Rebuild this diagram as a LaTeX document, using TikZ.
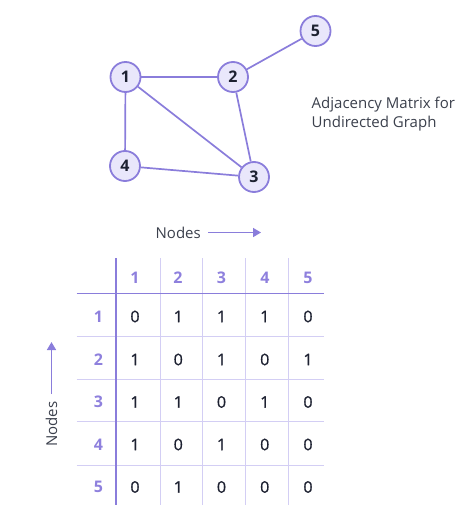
\documentclass[tikz,border=0pt]{standalone}
\usepackage{fontspec}
\setmainfont{Open Sans}
\newfontfamily\cellfont[FakeBold=0.8]{Open Sans}
\usetikzlibrary{arrows.meta}
\definecolor{edgec}{HTML}{8A7DDB}
\definecolor{fillc}{HTML}{E9E7FB}
\definecolor{gridc}{HTML}{D3CEF4}
\definecolor{headc}{HTML}{8E80DD}
\definecolor{numc}{HTML}{1D2131}
\definecolor{txtc}{HTML}{3B404C}
\begin{document}
\begin{tikzpicture}[x=1pt,y=-1pt,
  vert/.style={circle,draw=edgec,fill=fillc,line width=1.8pt,minimum size=30pt,inner sep=0pt,font=\fontsize{16}{18}\selectfont\bfseries,text=numc},
  edge/.style={draw=edgec,line width=1.7pt},
  cell/.style={font=\fontsize{16}{18}\cellfont,text=numc},
  head/.style={font=\fontsize{16}{18}\selectfont\bfseries,text=headc},
  thin/.style={draw=gridc,line width=1pt},
  thick/.style={draw=edgec,line width=1.8pt},
  lab/.style={font=\fontsize{15}{18.5}\selectfont,text=txtc},
  arr/.style={draw=edgec,line width=1.7pt,-{Triangle[length=8pt,width=9pt]}}]
\useasboundingbox (0,0) rectangle (462,508);
% graph
\node[vert] (n1) at (125.5,77) {1};
\node[vert] (n2) at (233,77) {2};
\node[vert] (n3) at (254,177) {3};
\node[vert] (n4) at (125,166) {4};
\node[vert] (n5) at (315.5,31) {5};
\path[edge] (n1) -- (n2);
\path[edge] (n1) -- (n4);
\path[edge] (n1) -- (n3);
\path[edge] (n2) -- (n3);
\path[edge] (n4) -- (n3);
\path[edge] (n2) -- (n5);
% caption
\node[lab,anchor=west,align=left,inner sep=0pt] (cap) at (311.5,114) {Adjacency Matrix for\\Undirected Graph};
% top nodes label
\node[lab,anchor=east,inner sep=0pt] (topl) at (201,232.5) {Nodes};
\coordinate (ta) at (208,232.5);
\coordinate (tb) at (261,232.5);
\draw[arr] (ta) -- (tb);
% side nodes label
\node[lab,rotate=90,inner sep=0pt] (sidel) at (51.5,424) {Nodes};
\coordinate (sa) at (51.5,394);
\coordinate (sb) at (51.5,342);
\draw[arr] (sa) -- (sb);
% grid
\foreach \x [count=\k] in {160,202.7,245.7,288.7} {
  \coordinate (vt\k) at (\x,258);
  \coordinate (vb\k) at (\x,505);
  \draw[thin] (vt\k) -- (vb\k);
}
\foreach \y [count=\k] in {336.7,379.3,421.7,465} {
  \coordinate (hl\k) at (76.7,\y);
  \coordinate (hr\k) at (324,\y);
  \draw[thin] (hl\k) -- (hr\k);
}
\coordinate (vt) at (116,258);
\coordinate (vb) at (116,505);
\coordinate (hl) at (76.7,293.5);
\coordinate (hr) at (324,293.5);
\draw[thick] (vt) -- (vb);
\draw[thick] (hl) -- (hr);
% headers
\foreach \i/\x in {1/135,2/178,3/221.5,4/265,5/308} {
  \node[head] (c\i) at (\x,278) {\i};
}
\foreach \i/\y in {1/316.5,2/359.5,3/402,4/444.5,5/487} {
  \node[head] (r\i) at (98.5,\y) {\i};
}
% cells
\foreach \row/\y/\vals in {1/316.5/{0,1,1,1,0},2/359.5/{1,0,1,0,1},3/402/{1,1,0,1,0},4/444.5/{1,0,1,0,0},5/487/{0,1,0,0,0}} {
  \foreach \v [count=\c] in \vals {
    \pgfmathsetmacro{\xx}{135+43.25*(\c-1)}
    \node[cell] (m\row\c) at (\xx,\y) {\v};
  }
}
\end{tikzpicture}
\end{document}
